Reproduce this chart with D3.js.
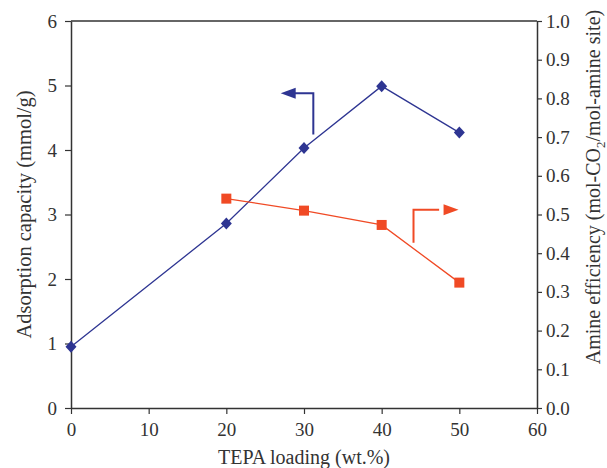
<!DOCTYPE html>
<html>
<head>
<meta charset="utf-8">
<script src="https://cdn.jsdelivr.net/npm/d3@7"></script>
<style>
  body { margin: 0; background: #fff; }
  text { font-family: "Liberation Serif", "DejaVu Serif", serif; fill: #333; }
</style>
</head>
<body>
<script>
(function() {

    const width = 607;
    const height = 468;

    // TEPA loading (wt.%)
    const loadings = [0, 20, 30, 40, 50];
    // adsorption capacity, mmol/g (left axis)
    const capacity = [0.95, 2.86, 4.03, 4.99, 4.27];
    // amine efficiency, mol-CO2/mol-amine site (right axis), no value at 0 wt.%
    const effLoadings = [20, 30, 40, 50];
    const efficiency = [0.541, 0.510, 0.473, 0.324];

    const xTicks = [0, 10, 20, 30, 40, 50, 60];
    const yLeftTicks = [0, 1, 2, 3, 4, 5, 6];
    const yRightTicks = [0, 0.1, 0.2, 0.3, 0.4, 0.5, 0.6, 0.7, 0.8, 0.9, 1.0];

    const blue = "#2e3592";
    const red = "#f04a25";
    const axisColor = "#333";

    const margin = {top: 21, left: 71, right: 70, bottom: 60};
    const x0 = margin.left, x1 = width - margin.right;
    const y0 = height - margin.bottom, y1 = margin.top;

    let x = d3.scaleLinear().domain([0, 60]).range([x0, x1]);
    let yL = d3.scaleLinear().domain([0, 6]).range([y0, y1]);
    let yR = d3.scaleLinear().domain([0, 1]).range([y0, y1]);

    let svg = d3.select("body").append("svg")
        .attr("width", width)
        .attr("height", height);

    // top frame line
    svg.append("line")
        .attr("x1", x0).attr("x2", x1)
        .attr("y1", y1).attr("y2", y1)
        .style("stroke", axisColor).style("stroke-width", 1.5);

    function styleAxis(g) {
        g.selectAll("path").style("stroke", axisColor).style("stroke-width", 1.5);
        g.selectAll("line").style("stroke", axisColor).style("stroke-width", 1.2);
        g.selectAll("text").style("font-size", "19px")
            .style("font-family", "'Liberation Serif', serif").style("fill", "#333");
    }

    svg.append("g")
        .attr("transform", "translate(0," + y0 + ")")
        .call(d3.axisBottom(x).tickValues(xTicks).tickSize(6).tickSizeOuter(0).tickPadding(9)
            .tickFormat(d3.format("d")))
        .call(styleAxis);

    svg.append("g")
        .attr("transform", "translate(" + x0 + ",0)")
        .call(d3.axisLeft(yL).tickValues(yLeftTicks).tickSize(6).tickSizeOuter(0).tickPadding(8)
            .tickFormat(d3.format("d")))
        .call(styleAxis);

    svg.append("g")
        .attr("transform", "translate(" + x1 + ",0)")
        .call(d3.axisRight(yR).tickValues(yRightTicks).tickSize(5).tickSizeOuter(0).tickPadding(4)
            .tickFormat(d3.format(".1f")))
        .call(styleAxis);

    // axis titles
    svg.append("text")
        .attr("x", (x0 + x1) / 2)
        .attr("y", 464)
        .attr("text-anchor", "middle")
        .style("font-size", "20px")
        .text("TEPA loading (wt.%)");

    svg.append("text")
        .attr("transform", "translate(31," + ((y0 + y1) / 2) + ") rotate(-90)")
        .attr("text-anchor", "middle")
        .style("font-size", "20.5px")
        .text("Adsorption capacity (mmol/g)");

    let rt = svg.append("text")
        .attr("transform", "translate(600,187) rotate(-90)")
        .attr("text-anchor", "middle")
        .style("font-size", "20px");
    rt.append("tspan").text("Amine efficiency (mol-CO");
    rt.append("tspan").attr("dy", 5).style("font-size", "13px").text("2");
    rt.append("tspan").attr("dy", -5).text("/mol-amine site)");

    // adsorption capacity series
    const capData = loadings.map((d, i) => [d, capacity[i]]);
    svg.append("path")
        .datum(capData)
        .attr("d", d3.line().x(d => x(d[0])).y(d => yL(d[1])))
        .style("fill", "none").style("stroke", blue).style("stroke-width", 1.3);

    svg.selectAll("path.diamond")
        .data(capData)
        .enter()
        .append("path")
        .attr("class", "diamond")
        .attr("transform", d => "translate(" + x(d[0]) + "," + yL(d[1]) + ")")
        .attr("d", "M0,-6L5.5,0L0,6L-5.5,0Z")
        .style("fill", blue);

    // amine efficiency series
    const effData = effLoadings.map((d, i) => [d, efficiency[i]]);
    svg.append("path")
        .datum(effData)
        .attr("d", d3.line().x(d => x(d[0])).y(d => yR(d[1])))
        .style("fill", "none").style("stroke", red).style("stroke-width", 1.3);

    svg.selectAll("rect.sq")
        .data(effData)
        .enter()
        .append("rect")
        .attr("class", "sq")
        .attr("x", d => x(d[0]) - 5)
        .attr("y", d => yR(d[1]) - 5)
        .attr("width", 10)
        .attr("height", 10)
        .style("fill", red);

    // axis indicator arrows
    function arrow(pts, tip, dir, color) {
        svg.append("path")
            .attr("d", d3.line()(pts))
            .style("fill", "none").style("stroke", color).style("stroke-width", 2);
        const [tx, ty] = tip;
        const back = tx - dir * 15;
        svg.append("path")
            .attr("d", "M" + tx + "," + ty + "L" + back + "," + (ty - 5.5) + "L" + back + "," + (ty + 5.5) + "Z")
            .style("fill", color);
    }

    // points to left axis
    arrow([[x(31.2), yL(4.24)], [x(31.2), yL(4.88)], [x(28.8), yL(4.88)]],
          [x(27.0), yL(4.88)], -1, blue);
    // points to right axis
    arrow([[x(44.1), yR(0.427)], [x(44.1), yR(0.512)], [x(47.4), yR(0.512)]],
          [x(49.9), yR(0.512)], 1, red);

})();
</script>
</body>
</html>
